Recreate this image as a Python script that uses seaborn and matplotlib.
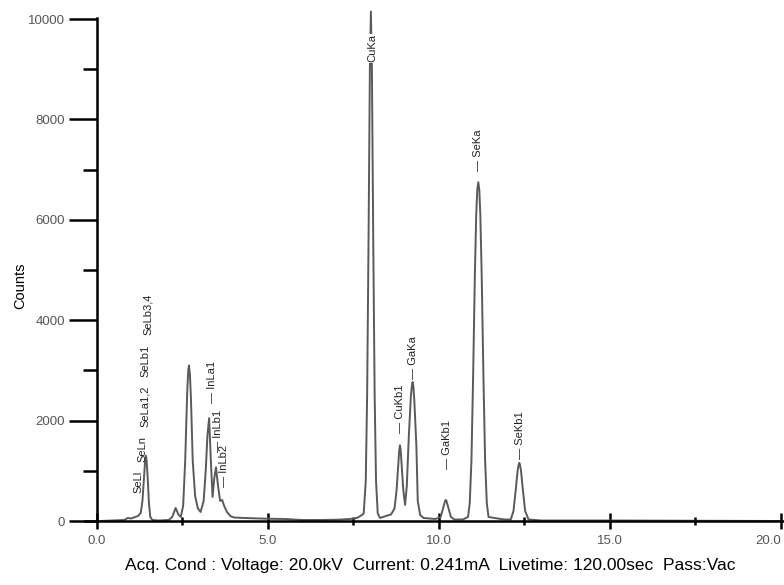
import matplotlib
matplotlib.use("Agg")
import matplotlib.pyplot as plt
import seaborn as sns
import pandas as pd

# Spectrum: energy (keV) and counts
energy = [0.1, 0.8, 0.9, 1.0, 1.12, 1.2, 1.28, 1.33, 1.38, 1.41, 1.43, 1.45, 1.48, 1.52, 1.56, 1.62,
          1.8, 2.1, 2.2, 2.3, 2.38, 2.45, 2.52, 2.58, 2.64, 2.67, 2.69, 2.72, 2.75, 2.8, 2.87, 2.95,
          3.03, 3.12, 3.18, 3.23, 3.28, 3.33, 3.38, 3.43, 3.48, 3.54, 3.6, 3.66, 3.72,
          3.8, 3.9, 4.0, 4.3, 5.0, 5.5, 6.0, 6.5, 7.0, 7.4, 7.6, 7.75,
          7.8, 7.86, 7.9, 7.94, 7.98, 8.01, 8.04, 8.08, 8.12, 8.16, 8.21, 8.28, 8.45,
          8.6, 8.7, 8.76, 8.81, 8.84, 8.86, 8.88, 8.91, 8.96, 9.01, 9.06, 9.12, 9.18, 9.21,
          9.23, 9.25, 9.28, 9.34, 9.38, 9.45, 9.55, 9.9, 10.05, 10.12, 10.18, 10.2, 10.22,
          10.28, 10.35, 10.45, 10.7,
          10.85, 10.9, 10.95, 11.0, 11.05, 11.09, 11.12, 11.15, 11.18, 11.21, 11.25, 11.3,
          11.35, 11.4, 11.45, 11.9, 12.1, 12.18, 12.25, 12.3, 12.33, 12.35, 12.37, 12.4,
          12.45, 12.52, 12.62, 13.0, 15.0, 17.5, 20.0]
counts = [0, 20, 60, 50, 80, 100, 160, 400, 900, 1220, 1300, 1220, 900, 350, 80, 20,
          10, 20, 80, 260, 130, 80, 300, 1200, 2600, 3000, 3100, 2900, 2400, 1200, 500, 250,
          180, 400, 1000, 1700, 2050, 1200, 480, 850, 1070, 700, 400, 420, 300,
          180, 100, 70, 60, 45, 40, 20, 20, 25, 40, 60, 120,
          150, 800, 2500, 5500, 9000, 10150, 9000, 5500, 2500, 800, 150, 60, 100,
          130, 250, 600, 1100, 1420, 1510, 1420, 1100, 600, 320, 700, 1700, 2500, 2700,
          2770, 2700, 2400, 1500, 400, 120, 60, 40, 80, 250, 400, 420, 400,
          250, 80, 30, 30,
          80, 350, 1200, 2900, 4900, 6100, 6600, 6750, 6600, 6100, 4900, 2900,
          1200, 350, 80, 30, 30, 200, 650, 1000, 1120, 1160, 1120, 1000,
          650, 200, 30, 10, 10, 5, 0]

# Peak labels
peak_names = ["SeLl", "SeLn", "SeLa1,2", "SeLb1", "SeLb3,4", "— InLa1", "— InLb1", "— InLb2",
              "CuKa", "— CuKb1", "— GaKa", "— GaKb1", "— SeKa", "— SeKb1"]
peak_x = [1.20, 1.32, 1.40, 1.43, 1.49, 3.36, 3.54, 3.71,
          8.04, 8.86, 9.24, 10.23, 11.14, 12.37]
peak_y = [560, 1175, 1870, 2870, 3705, 2350, 1375, 677,
          9140, 1750, 2820, 1035, 6970, 1235]

x_ticks = [0, 5, 10, 15, 20]
x_tick_labels = ["0.0", "5.0", "10.0", "15.0", "20.0"]
y_ticks = [0, 2000, 4000, 6000, 8000, 10000]
caption = "Acq. Cond : Voltage: 20.0kV  Current: 0.241mA  Livetime: 120.00sec  Pass:Vac"

sns.set_style("ticks")
plt.rcParams["font.family"] = ["Liberation Sans", "DejaVu Sans"]

W, H = 784, 585
fig = plt.figure(figsize=(W / 100, H / 100), dpi=100)
x0, x1 = 85, 784
ytop, ybot = 9, 521
ax = fig.add_axes([x0 / W, (H - ybot) / H, (x1 - x0) / W, (ybot - ytop) / H])

df = pd.DataFrame({"Energy": energy, "Counts": counts})
sns.lineplot(data=df, x="Energy", y="Counts", ax=ax, color="#5a5a5a", linewidth=1.4)

ax.set_xlim(-0.35, 20.09)
ax.set_ylim(0, 10200)

for s in ["top", "right"]:
    ax.spines[s].set_visible(False)
ax.spines["left"].set_position(("data", 0))
ax.spines["left"].set_bounds(0, 10030)
ax.spines["left"].set_linewidth(1.8)
ax.spines["bottom"].set_linewidth(1.8)
ax.spines["left"].set_color("black")
ax.spines["bottom"].set_color("black")

ax.set_xticks(x_ticks)
ax.set_xticklabels(x_tick_labels)
ax.set_xticks([2.5, 7.5, 12.5, 17.5], minor=True)
ax.set_yticks(y_ticks)
ax.set_yticklabels([str(v) for v in y_ticks])
ax.set_yticks([1000, 3000, 5000, 7000, 9000], minor=True)

ax.tick_params(axis="y", which="major", length=20, width=1.8, color="black",
               labelsize=9.5, labelcolor="#555555", pad=3)
ax.tick_params(axis="y", which="minor", length=10, width=1.8, color="black")
ax.tick_params(axis="x", which="major", length=12, width=1.8, color="black", direction="inout",
               labelsize=9.5, labelcolor="#555555", pad=4)
ax.tick_params(axis="x", which="minor", length=6, width=1.8, color="black", direction="inout")
last = ax.get_xticklabels()[-1]
last.set_horizontalalignment("right")

ax.set_xlabel("")
ax.set_ylabel("Counts", fontsize=10.5, color="black")
ax.yaxis.set_label_coords(-0.083, 0.46)

for name, px, py in zip(peak_names, peak_x, peak_y):
    kw = {}
    if name == "CuKa":
        kw["bbox"] = dict(facecolor="white", edgecolor="none", pad=0.5)
    ax.text(px, py, name, rotation=90, ha="center", va="bottom", fontsize=8,
            color="#222222", **kw)

fig.text(0.549, 0.02, caption, ha="center", va="bottom", fontsize=12.5, color="black",
         family=["Liberation Sans Narrow", "Liberation Sans", "DejaVu Sans"])

fig.savefig("out.png", dpi=100, facecolor="white")
